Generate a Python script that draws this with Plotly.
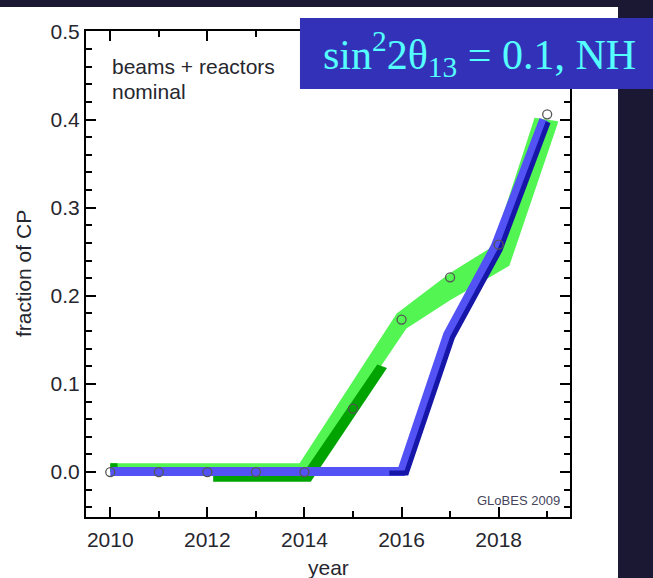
import plotly.graph_objects as go

# measured fraction of CP (open circles)
years = [2010, 2011, 2012, 2013, 2014, 2015, 2016, 2017, 2018, 2019]
fraction_cp = [0.0, 0.0, 0.0, 0.0, 0.0, 0.072, 0.173, 0.221, 0.258, 0.406]

# light green band (upper edge left->right, then lower edge right->left)
light_band_x = [2010, 2013.9, 2015.9, 2017.0, 2017.88, 2018.74, 2019.22,
                2019.22, 2018.22, 2017.0, 2016.1, 2014.1, 2010]
light_band_y = [0.010, 0.010, 0.180, 0.226, 0.256, 0.402, 0.398,
                0.396, 0.234, 0.195, 0.163, 0.0, 0.0]

# dark green pieces (two polygons separated by None)
dark_band_x = [2010, 2010.15, 2010.15, 2010, None,
               2012.12, 2013.95, 2015.5, 2015.7, 2014.13, 2012.12]
dark_band_y = [0.010, 0.010, 0.0, 0.0, None,
               -0.003, -0.003, 0.122, 0.118, -0.011, -0.011]

# blue curves
blue_x = [2010, 2016.0, 2016.95, 2017.93, 2018.93]
blue_y = [0.0005, 0.0005, 0.156, 0.256, 0.400]
navy_x = [2015.75, 2016.1, 2017.05, 2018.03, 2019.02]
navy_y = [-0.001, -0.001, 0.153, 0.252, 0.397]

xticks = [2010, 2012, 2014, 2016, 2018]

font = "Liberation Sans, Arial, sans-serif"
ink = "#26262e"

fig = go.Figure()
fig.add_trace(go.Scatter(x=light_band_x, y=light_band_y, mode="lines",
                         fill="toself", fillcolor="#52f552",
                         line=dict(width=0, color="#52f552"), hoverinfo="skip"))
fig.add_trace(go.Scatter(x=dark_band_x, y=dark_band_y, mode="lines",
                         fill="toself", fillcolor="#00a300",
                         line=dict(width=0, color="#00a300"), hoverinfo="skip"))
fig.add_trace(go.Scatter(x=blue_x, y=blue_y, mode="lines",
                         line=dict(width=9, color="#5252f5")))
fig.add_trace(go.Scatter(x=navy_x, y=navy_y, mode="lines",
                         line=dict(width=5, color="#1616a8")))
fig.add_trace(go.Scatter(x=years, y=fraction_cp, mode="markers",
                         marker=dict(symbol="circle-open", size=9,
                                     color="#555555", line=dict(width=1.3))))

axis_common = dict(
    showline=True, linecolor="black", linewidth=2, mirror="allticks",
    ticks="inside", tickcolor="black", tickwidth=1.5, ticklen=10,
    showgrid=False, zeroline=False, automargin=False,
    tickfont=dict(family=font, size=21, color=ink),
)

fig.update_xaxes(range=[2009.5, 2019.47], tickvals=xticks,
                 minor=dict(dtick=1, tick0=2010, ticks="inside", ticklen=6,
                            tickcolor="black", tickwidth=1.5),
                 ticklabelstandoff=3,
                 **axis_common)
fig.update_yaxes(range=[-0.051, 0.5005], dtick=0.1, tickformat=".1f",
                 minor=dict(dtick=0.02, tick0=0, ticks="inside", ticklen=6,
                            tickcolor="black", tickwidth=1.5),
                 **axis_common)

fig.update_layout(
    width=653, height=578,
    margin=dict(l=86, r=83, t=31, b=61),
    paper_bgcolor="#1b1833",
    plot_bgcolor="white",
    showlegend=False,
    shapes=[
        dict(type="rect", xref="paper", yref="paper", layer="below",
             x0=-0.18, x1=1.0992, y0=-0.2, y1=1.0494,
             fillcolor="white", line=dict(width=0)),
        dict(type="rect", xref="paper", yref="paper", layer="above",
             x0=0.4421, x1=1.2, y0=0.8807, y1=1.0267,
             fillcolor="#3431b9", line=dict(width=0)),
    ],
    annotations=[
        # axis titles
        dict(x=0.5, y=-0.103, xref="paper", yref="paper", xanchor="center",
             yanchor="middle", text="year", showarrow=False,
             font=dict(family=font, size=21, color=ink)),
        dict(x=-0.13, y=0.5, xref="paper", yref="paper", xanchor="center",
             yanchor="middle", text="fraction of CP", showarrow=False, textangle=-90,
             font=dict(family=font, size=21, color=ink)),
        dict(x=2010, y=0.4605, xref="x", yref="y", xanchor="left", yanchor="middle",
             text="beams + reactors", showarrow=False,
             font=dict(family=font, size=21, color=ink)),
        dict(x=2010, y=0.4322, xref="x", yref="y", xanchor="left", yanchor="middle",
             text="nominal", showarrow=False,
             font=dict(family=font, size=21, color=ink)),
        dict(x=2019.30, y=-0.0318, xref="x", yref="y", xanchor="right", yanchor="middle",
             text="GLoBES 2009", showarrow=False,
             font=dict(family=font, size=13, color="#44445a")),
        dict(x=0.814, y=0.9527, xref="paper", yref="paper", xanchor="center",
             yanchor="middle", showarrow=False,
             text="sin<sup>2</sup>2θ<sub>13</sub> = 0.1, NH",
             font=dict(family="Liberation Serif, Times New Roman, serif",
                       size=42, color="#55ffff")),
    ],
)

fig.write_html("out.html", config={"displayModeBar": False},
               post_script="document.body.style.margin='0px';")
